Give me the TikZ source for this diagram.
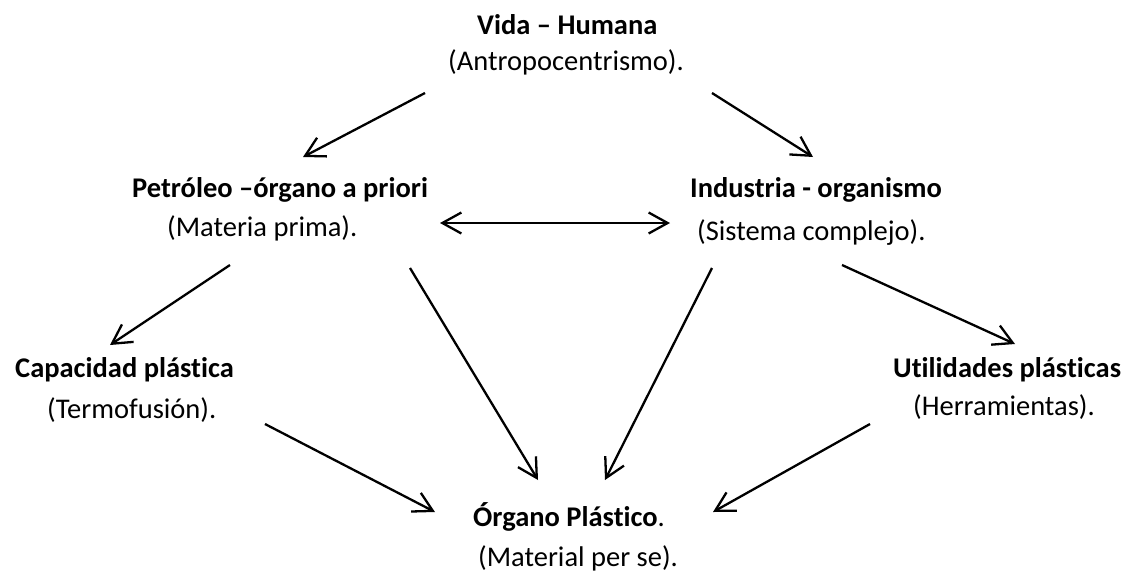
\documentclass[tikz,border=0pt]{standalone}
\usepackage{fontspec}
\setmainfont{Carlito}[Ligatures=NoCommon]
\usetikzlibrary{arrows.meta}
\tikzset{
  mybarb/.tip={Straight Barb[length=19pt,width=21pt,line width=2.3pt]},
  txt/.style={anchor=west, inner sep=0pt, font=\fontsize{28.5}{34}\selectfont},
  ttl/.style={txt, font=\fontsize{28.5}{34}\selectfont\bfseries},
  arr/.style={line width=2.3pt, -mybarb},
  darr/.style={line width=2.3pt, mybarb-mybarb}
}
\begin{document}
\begin{tikzpicture}[x=1pt,y=-1pt]
\useasboundingbox (0,0) rectangle (1130,571);
% text
\node[ttl] (vidaT) at (477,25) {Vida -- Humana};
\node[txt] (vidaS) at (448,62) {(Antropocentrismo).};
\node[ttl] (petT) at (132,190) {Petróleo --órgano a priori};
\node[txt] (petS) at (167,228) {(Materia prima).};
\node[ttl] (indT) at (690,190) {Industria - organismo};
\node[txt] (indS) at (697,233) {(Sistema complejo).};
\node[ttl] (capT) at (15,370) {Capacidad plástica};
\node[txt] (capS) at (47,410) {(Termofusión).};
\node[ttl] (utiT) at (893,370) {Utilidades plásticas};
\node[txt] (utiS) at (913,407) {(Herramientas).};
\node[txt] (orgT) at (473,517) {\textbf{Órgano Plástico}.};
\node[txt] (orgS) at (478,558) {(Material per se).};
% connector ends
\coordinate (a1) at (425,93);  \coordinate (b1) at (303,157);
\coordinate (a2) at (712,93);  \coordinate (b2) at (813,157);
\coordinate (a3) at (440,223); \coordinate (b3) at (670,223);
\coordinate (a4) at (230,265); \coordinate (b4) at (110,345);
\coordinate (a5) at (410,268); \coordinate (b5) at (538,480);
\coordinate (a6) at (712,268); \coordinate (b6) at (605,480);
\coordinate (a7) at (842,265); \coordinate (b7) at (1015,344);
\coordinate (a8) at (265,424); \coordinate (b8) at (435,512);
\coordinate (a9) at (870,424); \coordinate (b9) at (713,512);
\draw[arr] (a1) -- (b1);
\draw[arr] (a2) -- (b2);
\draw[darr] (a3) -- (b3);
\draw[arr] (a4) -- (b4);
\draw[arr] (a5) -- (b5);
\draw[arr] (a6) -- (b6);
\draw[arr] (a7) -- (b7);
\draw[arr] (a8) -- (b8);
\draw[arr] (a9) -- (b9);
\end{tikzpicture}
\end{document}
